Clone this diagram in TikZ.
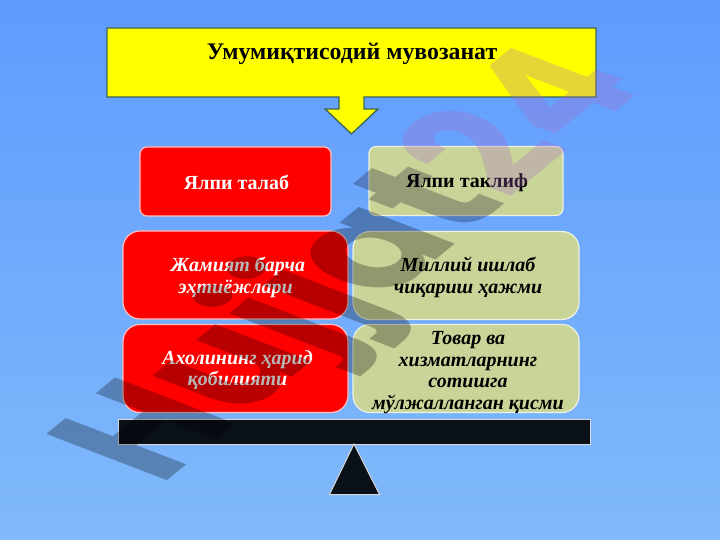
\documentclass[tikz,border=0pt]{standalone}
\usepackage{fontspec}
\setmainfont{Liberation Serif}
\newfontfamily\markfont{Poppins}
\usepackage{tikz}
\usetikzlibrary{calc}
\definecolor{bgtop}{RGB}{95,155,255}
\definecolor{bgbottom}{RGB}{128,186,250}
\definecolor{calloutyellow}{RGB}{255,255,0}
\definecolor{leafgreen}{RGB}{200,212,152}
\definecolor{beamblack}{RGB}{10,16,24}
\definecolor{calloutedge}{RGB}{60,100,90}
\definecolor{markpurple}{RGB}{172,105,200}
\definecolor{markmid}{RGB}{20,15,40}
\tikzset{
    titlefont/.style={font=\fontsize{23.8}{26}\selectfont\bfseries},
    redbox/.style={draw=white!75!red,line width=1.2pt,fill=red},
    greenbox/.style={draw=white!70!leafgreen,line width=1.2pt,fill=leafgreen},
    headbox/.style={rounded corners=7pt,minimum width=191pt,minimum height=69pt},
    bigbox/.style={rounded corners=17pt,minimum width=225pt,minimum height=88pt},
    headtext/.style={align=center,font=\fontsize{20}{22}\selectfont\bfseries},
    bigtext/.style={align=center,font=\fontsize{20}{21.7}\selectfont\bfseries\itshape},
}
\begin{document}
\begin{tikzpicture}[x=1pt,y=-1pt]
    \useasboundingbox (0,0) rectangle (720,540);
    \shade[top color=bgtop,bottom color=bgbottom] (0,0) rectangle (720,540);
    % title with its arrow
    \draw[fill=calloutyellow,draw=calloutedge,line width=1.3pt] (107,28) -- (596,28) -- (596,97) -- (364,97)
        -- (364,109) -- (378,109) -- (351.5,134) -- (325,109) -- (339,109) -- (339,97) -- (107,97) -- cycle;
    \node[titlefont] (title) at (352,54) {Умумиқтисодий мувозанат};
    % left and right columns
    \node[redbox,headbox] (demand) at (235.5,181.5) {};
    \node[greenbox,headbox,minimum width=194pt] (supply) at (466,181) {};
    \node[redbox,bigbox] (needs) at (235.5,275) {};
    \node[greenbox,bigbox,minimum width=226pt] (output) at (466,275.5) {};
    \node[redbox,bigbox] (income) at (235.5,368.5) {};
    \node[greenbox,bigbox,minimum width=226pt] (goods) at (466,368.5) {};
    \node[headtext,text=white] (demandtext) at ($(demand)+(1,0.5)$) {Ялпи талаб};
    \node[headtext] (supplytext) at ($(supply)+(1,2)$) {Ялпи таклиф};
    \node[bigtext,text=white] (needstext) at ($(needs)+(0,2.5)$) {\ Жамият барча\\эҳтиёжлари};
    \node[bigtext] (outputtext) at ($(output)+(2,2)$) {Миллий ишлаб\\чиқариш ҳажми};
    \node[bigtext,text=white] (incometext) at ($(income)+(2,1.5)$) {Ахолининг ҳарид\\қобилияти};
    \node[bigtext] (goodstext) at ($(goods)+(2,4)$) {Товар ва\\хизматларнинг\\сотишга\\мўлжалланган қисми};
    % the balance
    \node[draw=white!70!gray,fill=beamblack,line width=1pt,minimum width=472pt,minimum height=25pt,inner sep=0pt] (beam) at (354,431.5) {};
    \coordinate (apex) at (354,444);
    \draw[draw=white!70!gray,fill=beamblack,line width=1pt] (apex) -- (379.5,494.5) -- (329.5,494.5) -- cycle;
    % watermark
    \begin{scope}[cm={1.13,0.93,-1.72,0.66,(160,487)}]
        \node[transform shape,anchor=base west,inner sep=0pt,text opacity=0.28,font=\markfont\fontsize{100}{100}\selectfont\bfseries] (mark) at (0,0)
            {H\textcolor{black}{ujja}\textcolor{markmid}{t}\textcolor{markpurple}{24}};
    \end{scope}
\end{tikzpicture}
\end{document}
